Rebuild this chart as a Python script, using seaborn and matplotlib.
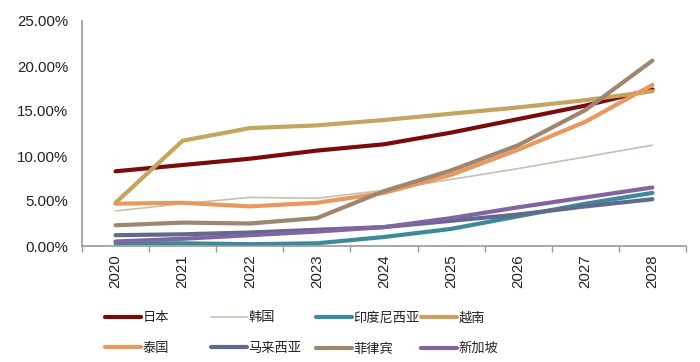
import matplotlib
matplotlib.use("Agg")
import matplotlib.pyplot as plt
import seaborn as sns
import numpy as np
import pandas as pd
from matplotlib.ticker import FuncFormatter, FixedLocator

sns.set_theme(style="white")
plt.rcParams['font.family'] = ['Liberation Sans', 'Noto Sans CJK SC']

years = ["2020", "2021", "2022", "2023", "2024", "2025", "2026", "2027", "2028"]
japan = [8.3, 9.0, 9.7, 10.6, 11.3, 12.6, 14.1, 15.6, 17.4]
korea = [3.9, 4.7, 5.4, 5.3, 6.2, 7.4, 8.6, 9.9, 11.2]
indonesia = [0.3, 0.3, 0.2, 0.3, 1.0, 1.9, 3.3, 4.7, 5.9]
vietnam = [4.8, 11.7, 13.1, 13.4, 14.0, 14.7, 15.4, 16.2, 17.2]
thailand = [4.7, 4.8, 4.4, 4.8, 5.9, 7.9, 10.7, 13.8, 17.9]
malaysia = [1.2, 1.3, 1.5, 1.8, 2.1, 2.8, 3.5, 4.4, 5.2]
philippines = [2.3, 2.6, 2.5, 3.1, 6.1, 8.4, 11.2, 15.1, 20.6]
singapore = [0.5, 0.8, 1.2, 1.6, 2.1, 3.1, 4.3, 5.4, 6.5]

names = ["日本", "韩国", "印度尼西亚", "越南", "泰国", "马来西亚", "菲律宾", "新加坡"]
series = [japan, korea, indonesia, vietnam, thailand, malaysia, philippines, singapore]
colors = ["#7A0A0C", "#C4C1AE", "#3A8A9B", "#C6A45E", "#E9985E", "#5F6A8C", "#9E8670", "#8165A2"]
widths = [3.0, 1.2, 3.0, 3.0, 3.0, 3.0, 3.0, 3.0]

fig = plt.figure(figsize=(7, 3.62), dpi=100)
ax = fig.add_axes([82/700, 1-246/362, (686-82)/700, (246-21)/362])

x = np.arange(len(years))
handles = {}
for name, vals, c, w in zip(names, series, colors, widths):
    df = pd.DataFrame({"x": x, "y": np.array(vals) / 100.0})
    sns.lineplot(data=df, x="x", y="y", ax=ax, color=c, linewidth=w, legend=False)
    ln = ax.lines[-1]
    ln.set_solid_capstyle("round")
    handles[name] = ln

ax.set_xlim(-0.5, len(years) - 0.5)
ax.set_ylim(0, 0.25)
ax.set_yticks(np.arange(0, 0.2501, 0.05))
ax.yaxis.set_major_formatter(FuncFormatter(lambda v, p: f"{v*100:.2f}%"))
ax.set_xticks(x)
ax.set_xticklabels(years, rotation=90)
ax.xaxis.set_minor_locator(FixedLocator(np.arange(-0.5, len(years), 1.0)))
ax.tick_params(axis="x", which="major", length=0, pad=6, labelsize=10.8, colors="#222222")
ax.tick_params(axis="x", which="minor", length=4, width=1, color="#999999", bottom=True)
ax.tick_params(axis="y", length=0, pad=10, labelsize=10.8, colors="#222222")
ax.set_xlabel("")
ax.set_ylabel("")
for s in ["top", "right"]:
    ax.spines[s].set_visible(False)
for s in ["left", "bottom"]:
    ax.spines[s].set_color("#999999")
    ax.spines[s].set_linewidth(1.2)

cols = [["日本", "泰国"], ["韩国", "马来西亚"], ["印度尼西亚", "菲律宾"], ["越南", "新加坡"]]
col_x = [105, 211, 316, 421]
for cx, col in zip(col_x, cols):
    leg = fig.legend([handles[n] for n in col], col, loc="upper left",
                     bbox_to_anchor=(cx/700, 1-312/362), frameon=False,
                     fontsize=9.5, handlelength=2.7, handletextpad=0.15,
                     labelspacing=1.4, borderpad=0, borderaxespad=0)
    for t in leg.get_texts():
        t.set_color("#222222")

fig.savefig("out.png", dpi=100)
